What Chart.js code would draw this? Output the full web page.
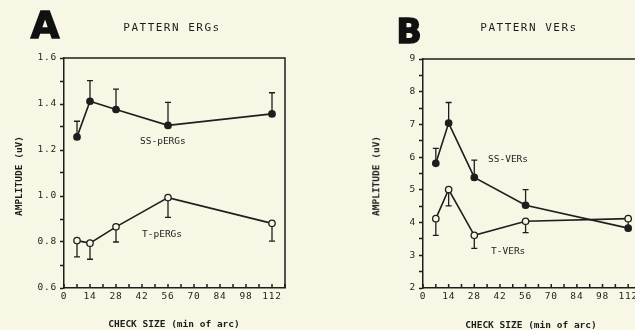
<!DOCTYPE html>
<html>
<head>
<meta charset="utf-8">
<script src="https://cdn.jsdelivr.net/npm/chart.js@4.4.1/dist/chart.umd.min.js"></script>
<style>
    html, body { margin: 0; padding: 0; }
    body {
        width: 635px; height: 330px; overflow: hidden; position: relative;
        background: #f8f6e4; color: #1e1e1e;
        font-family: "DejaVu Sans Mono", "Liberation Mono", monospace;
    }
    canvas { position: absolute; top: 0; }
    #ergChart { left: 0; }
    #verChart { left: 320px; }
    .t { position: absolute; white-space: nowrap; line-height: 1; transform: translate(-50%, -50%); }
    .panel { font-family: "DejaVu Sans", sans-serif; font-weight: bold; -webkit-text-stroke: 1.5px #111; color: #111; }
    .title { font-size: 11px; letter-spacing: 1.5px; }
    .axis { font-size: 9.5px; font-weight: bold; }
    .ylab { transform: translate(-50%, -50%) rotate(-90deg); }
    .series { font-size: 9.5px; transform: translate(0, -50%); }
</style>
</head>
<body>
<canvas id="ergChart" width="320" height="330"></canvas>
<canvas id="verChart" width="340" height="330"></canvas>

<div class="t panel" style="left:45px; top:25px; font-size:37px;">A</div>
<div class="t panel" style="left:409px; top:31px; font-size:33px;">B</div>
<div class="t title" style="left:172px; top:27px;">PATTERN ERGs</div>
<div class="t title" style="left:529px; top:27px;">PATTERN VERs</div>
<div class="t axis" style="left:174px; top:324px;">CHECK SIZE (min of arc)</div>
<div class="t axis" style="left:531px; top:325px;">CHECK SIZE (min of arc)</div>
<div class="t axis ylab" style="left:19px; top:176px;">AMPLITUDE (uV)</div>
<div class="t axis ylab" style="left:376px; top:176px;">AMPLITUDE (uV)</div>
<div class="t series" style="left:140px; top:141px;">SS-pERGs</div>
<div class="t series" style="left:142px; top:234px;">T-pERGs</div>
<div class="t series" style="left:488px; top:159px;">SS-VERs</div>
<div class="t series" style="left:491px; top:251px;">T-VERs</div>

<script>
// --- Datos ---
const checkSizes = [7, 14, 28, 56, 112];

// A: pattern ERGs (uV)
const ssPergMean = [1.257, 1.412, 1.376, 1.307, 1.357];
const ssPergErr = [1.325, 1.502, 1.465, 1.407, 1.449];
const tPergMean = [0.806, 0.795, 0.866, 0.993, 0.881];
const tPergErr = [0.735, 0.725, 0.800, 0.907, 0.804];

// B: pattern VERs (uV)
const ssVerMean = [5.81, 7.04, 5.38, 4.53, 3.83];
const ssVerErr = [6.27, 7.67, 5.91, 5.01, 4.14];
const tVerMean = [4.12, 5.01, 3.61, 4.04, 4.12];
const tVerErr = [3.61, 4.51, 3.21, 3.69, null];

const xTickStep = 7;
const xLabelStep = 14;
const xLastLabel = 112;

const ink = '#1e1e1e';
const paper = '#f8f6e4';
const tickFont = { family: 'DejaVu Sans Mono', size: 9.5 };

// barras de error, marco y marcas del eje x hacia dentro
const plotExtras = {
    id: 'plotExtras',
    beforeDraw: (chart) => {
        chart.ctx.letterSpacing = '0.8px';
    },
    beforeDatasetsDraw: (chart) => {
        const { ctx, chartArea, scales } = chart;
        ctx.save();
        ctx.strokeStyle = ink;
        ctx.lineWidth = 1.3;
        chart.data.datasets.forEach(ds => {
            ds.data.forEach((pt, i) => {
                const err = ds.errors[i];
                if (err == null) return;
                const x = scales.x.getPixelForValue(pt.x);
                const y0 = scales.y.getPixelForValue(pt.y);
                const y1 = scales.y.getPixelForValue(err);
                ctx.beginPath();
                ctx.moveTo(x, y0); ctx.lineTo(x, y1);
                ctx.moveTo(x - 3, y1); ctx.lineTo(x + 3, y1);
                ctx.stroke();
            });
        });
        // marcas del eje x
        ctx.lineWidth = 1.5;
        scales.x.ticks.forEach(t => {
            const x = scales.x.getPixelForValue(t.value);
            ctx.beginPath();
            ctx.moveTo(x, chartArea.bottom);
            ctx.lineTo(x, chartArea.bottom - 4);
            ctx.stroke();
        });
        ctx.restore();
    },
    afterDraw: (chart) => {
        const { ctx, chartArea } = chart;
        ctx.save();
        ctx.strokeStyle = ink;
        ctx.lineWidth = 1.5;
        ctx.beginPath();
        ctx.moveTo(chartArea.left, chartArea.top);
        ctx.lineTo(chartArea.right, chartArea.top);
        ctx.lineTo(chartArea.right, chartArea.bottom);
        ctx.stroke();
        ctx.restore();
    }
};

const seriesStyle = (filled) => ({
    borderColor: ink,
    borderWidth: 1.6,
    pointRadius: 3.2,
    pointBorderWidth: 1.3,
    pointBorderColor: ink,
    pointBackgroundColor: filled ? ink : paper,
    tension: 0,
    fill: false
});

const buildChart = (el, o) => new Chart(el, {
    type: 'line',
    data: {
        datasets: [
            { data: checkSizes.map((x, i) => ({ x, y: o.ss[i] })), errors: o.ssErr, ...seriesStyle(true) },
            { data: checkSizes.map((x, i) => ({ x, y: o.t[i] })), errors: o.tErr, ...seriesStyle(false) }
        ]
    },
    options: {
        responsive: false,
        animation: false,
        events: [],
        layout: { padding: { left: 0, right: o.padRight, top: o.padTop, bottom: 0 } },
        plugins: { legend: { display: false }, tooltip: { enabled: false } },
        scales: {
            x: {
                type: 'linear',
                min: 0,
                max: 119,
                afterFit: (s) => { s.height = 42; },
                ticks: {
                    stepSize: xTickStep, autoSkip: false, maxRotation: 0, padding: 3,
                    color: ink, font: tickFont,
                    callback: (v) => (v % xLabelStep === 0 && v <= xLastLabel) ? String(v) : ''
                },
                grid: { drawOnChartArea: false, drawTicks: false },
                border: { color: ink, width: 1.5 }
            },
            y: {
                min: o.yMin,
                max: o.yMax,
                afterFit: (s) => { s.width = o.yWidth; },
                ticks: {
                    stepSize: o.yStep, autoSkip: false, padding: 3,
                    color: ink, font: tickFont,
                    callback: o.yLabel
                },
                grid: { drawOnChartArea: false, drawTicks: true, tickLength: 4, tickWidth: 1.5, tickColor: ink },
                border: { color: ink, width: 1.5 }
            }
        }
    },
    plugins: [plotExtras]
});

buildChart(document.getElementById('ergChart'), {
    ss: ssPergMean, ssErr: ssPergErr, t: tPergMean, tErr: tPergErr,
    yMin: 0.6, yMax: 1.6, yStep: 0.1, yWidth: 64, padTop: 58, padRight: 35,
    yLabel: (v) => Math.round(v * 10) % 2 === 0 ? v.toFixed(1) : ''
});

buildChart(document.getElementById('verChart'), {
    ss: ssVerMean, ssErr: ssVerErr, t: tVerMean, tErr: tVerErr,
    yMin: 2, yMax: 9, yStep: 0.5, yWidth: 103, padTop: 59, padRight: 19,
    yLabel: (v) => Number.isInteger(v) ? String(v) : ''
});
</script>
</body>
</html>
